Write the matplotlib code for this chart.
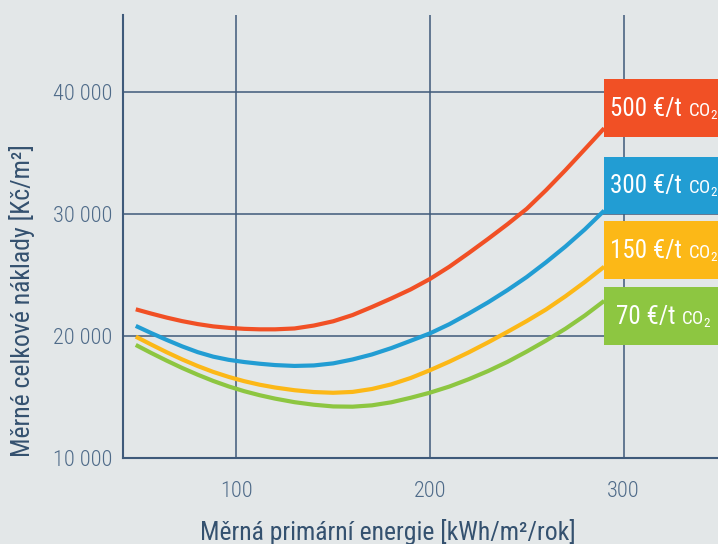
import matplotlib
matplotlib.use("Agg")
import matplotlib.pyplot as plt
from matplotlib.patches import Rectangle
from matplotlib.offsetbox import TextArea, HPacker, AnnotationBbox

# Specific primary energy [kWh/m2/year]
energy = [48, 56, 64, 72, 80, 88, 96, 104, 112, 120, 130, 140, 150, 160, 170,
          180, 190, 200, 210, 220, 230, 240, 250, 260, 270, 280, 290]

# Specific total costs [CZK/m2] for four carbon prices
cost_500 = [22210, 21860, 21530, 21240, 21000, 20810, 20690, 20610, 20570, 20570,
            20640, 20880, 21230, 21740, 22400, 23100, 23840, 24700, 25700, 26820,
            27980, 29180, 30450, 31980, 33620, 35330, 37050]
cost_300 = [20850, 20260, 19700, 19170, 18700, 18330, 18070, 17890, 17750, 17640,
            17570, 17610, 17780, 18100, 18510, 19030, 19630, 20240, 20990, 21860,
            22780, 23780, 24860, 26070, 27360, 28760, 30300]
cost_150 = [19970, 19320, 18690, 18100, 17560, 17080, 16670, 16320, 16030, 15800,
            15580, 15430, 15370, 15440, 15680, 16060, 16580, 17220, 17920, 18680,
            19500, 20360, 21250, 22200, 23280, 24450, 25700]
cost_70 = [19290, 18630, 18000, 17400, 16850, 16340, 15890, 15500, 15170, 14890,
           14600, 14390, 14250, 14230, 14340, 14590, 14960, 15380, 15880, 16480,
           17150, 17900, 18750, 19650, 20620, 21700, 22900]

prices = ["500", "300", "150", "70"]
series = [cost_500, cost_300, cost_150, cost_70]
colors = ["#f15025", "#229dd3", "#fcb817", "#8dc641"]

x_ticks = [100, 200, 300]
y_ticks = [10000, 20000, 30000, 40000]
y_tick_labels = ["10 000", "20 000", "30 000", "40 000"]

x_title = "Měrná primární energie [kWh/m²/rok]"
y_title = "Měrné celkové náklady [Kč/m²]"

BG = "#e3e7e8"
GRID = "#3f5a7a"
TICK_TXT = "#4f6b89"
TITLE_TXT = "#34516f"
FONT = "Roboto Condensed"

plt.rcParams["font.family"] = [FONT, "DejaVu Sans"]

W, H = 718, 544
fig = plt.figure(figsize=(W / 100, H / 100), dpi=100, facecolor=BG)

# plot area in pixels: left 123, right 718, top 15, bottom 458.3
L, R, T, B = 123, 718, 15, 458.3
ax = fig.add_axes([L / W, (H - B) / H, (R - L) / W, (B - T) / H])
ax.set_facecolor(BG)
ax.set_xlim(41.4, 348.8)
ax.set_ylim(10000, 46330)

for s in ("top", "right"):
    ax.spines[s].set_visible(False)
for s in ("left", "bottom"):
    ax.spines[s].set_color(GRID)
    ax.spines[s].set_linewidth(1.5)

ax.set_xticks(x_ticks)
ax.set_xticklabels([str(v) for v in x_ticks])
ax.set_yticks(y_ticks)
ax.set_yticklabels(y_tick_labels)
ax.tick_params(axis="both", length=0, labelsize=16, labelcolor=TICK_TXT)
ax.tick_params(axis="x", pad=16)
ax.tick_params(axis="y", pad=8)
for lab in ax.get_xticklabels() + ax.get_yticklabels():
    lab.set_fontweight(300)

ax.grid(True, color=GRID, linewidth=1.1)
ax.set_axisbelow(True)

for vals, col in zip(series, colors):
    ax.plot(energy, vals, color=col, linewidth=3.0, solid_capstyle="butt",
            solid_joinstyle="round", zorder=3)

# label boxes at the right edge (pixel rows: top, bottom)
boxes = [(79, 136.7), (156.7, 214), (221, 279), (286.7, 345)]


def px_to_axes(px, py):
    return (px - L) / (R - L), (B - py) / (B - T)


for (top, bot), col, price in zip(boxes, colors, prices):
    x0, y0 = px_to_axes(604, bot)
    x1, y1 = px_to_axes(W, top)
    ax.add_patch(Rectangle((x0, y0), x1 - x0, y1 - y0, transform=ax.transAxes,
                           facecolor=col, edgecolor="none", clip_on=False, zorder=5))
    big = TextArea(f"{price} €/t", textprops=dict(color="white", fontsize=18,
                                                   family=FONT))
    small = TextArea(r"$\mathregular{CO_2}$", textprops=dict(color="white", fontsize=13.5,
                                                             family=FONT))
    pack = HPacker(children=[big, small], align="baseline", pad=0, sep=4)
    cy = (top + bot) / 2 + 1
    ab = AnnotationBbox(pack, (664, H - cy), xycoords="figure pixels",
                        frameon=False, box_alignment=(0.5, 0.5), zorder=6)
    ab.set_clip_on(False)
    ax.add_artist(ab)

fig.text(388 / W, 4 / H, x_title, ha="center", va="baseline", fontsize=18.5,
         fontweight=400, color=TITLE_TXT)
fig.text(22 / W, (H - 300.5) / H, y_title, ha="center", va="center", rotation=90,
         fontsize=18.5, fontweight=400, color=TITLE_TXT)

fig.savefig("out.png", dpi=100, facecolor=BG)
